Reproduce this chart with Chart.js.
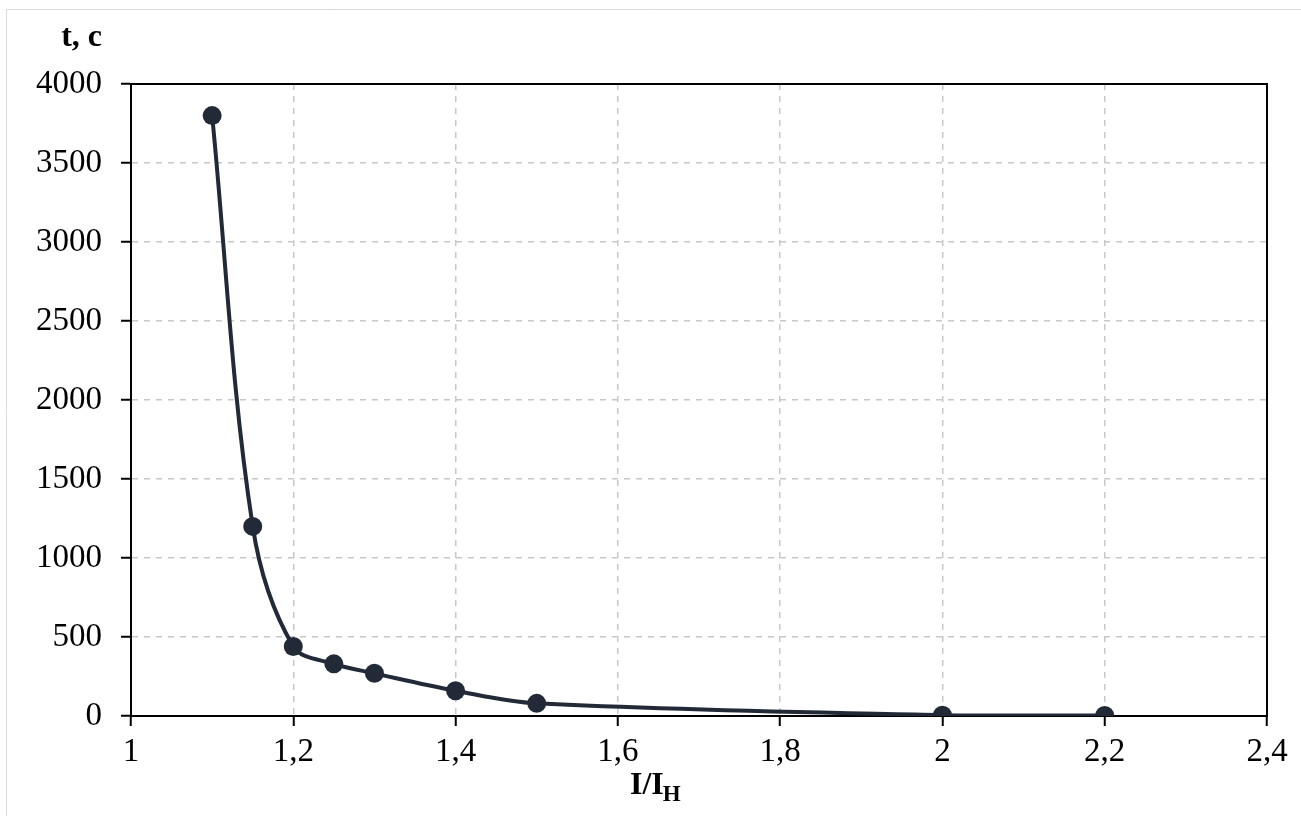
<!DOCTYPE html>
<html>
<head>
  <title>t(I/IH)</title>
  <script src="https://cdn.jsdelivr.net/npm/chart.js"></script>
  <style>
    body { margin: 0; background: #fff; }
    #wrap { width: 1301px; height: 816px; position: relative; }
  </style>
</head>
<body>
  <div id="wrap"><canvas id="myChart"></canvas></div>

  <script>
    // values
    const ratioValues = [1.1, 1.15, 1.2, 1.25, 1.3, 1.4, 1.5, 2, 2.2];
    const timeValues = [3800, 1200, 440, 330, 270, 160, 80, 5, 3];
    const xTicks = [1, 1.2, 1.4, 1.6, 1.8, 2, 2.2, 2.4];
    const yTicks = [0, 500, 1000, 1500, 2000, 2500, 3000, 3500, 4000];
    const yTitle = 't, c';
    const xTitle = 'I/I';
    const xTitleSub = 'H';

    const lineColor = '#222a38';
    const serif = "'Liberation Serif', 'Times New Roman', serif";

    // frame round the plot area and the axis titles
    const framePlugin = {
      id: 'frame',
      beforeDatasetsDraw(chart) {
        const ctx = chart.ctx;
        const a = chart.chartArea;
        ctx.save();
        ctx.strokeStyle = '#000';
        ctx.lineWidth = 2;
        ctx.strokeRect(a.left, a.top, a.right - a.left, a.bottom - a.top);
        ctx.restore();
      },
      afterDraw(chart) {
        const ctx = chart.ctx;
        ctx.save();
        // faint outer border of the picture
        ctx.strokeStyle = '#dcdcdc';
        ctx.lineWidth = 1;
        ctx.beginPath();
        ctx.moveTo(6.5, 816);
        ctx.lineTo(6.5, 9.5);
        ctx.lineTo(1301, 9.5);
        ctx.stroke();

        ctx.fillStyle = '#000';
        ctx.font = 'bold 32px ' + serif;
        ctx.textBaseline = 'alphabetic';
        ctx.textAlign = 'right';
        ctx.fillText(yTitle, 102, 46);

        ctx.textAlign = 'left';
        const w1 = ctx.measureText(xTitle).width;
        const x0 = 630;
        ctx.fillText(xTitle, x0, 794);
        ctx.font = 'bold 23px ' + serif;
        ctx.fillText(xTitleSub, x0 + w1 - 1, 801);
        ctx.restore();
      }
    };

    const fmt = v => String(parseFloat(Number(v).toFixed(2))).replace('.', ',');

    const ctx = document.getElementById('myChart').getContext('2d');
    const myChart = new Chart(ctx, {
      type: 'line',
      data: {
        datasets: [{
          label: 't',
          data: ratioValues.map((x, i) => ({ x: x, y: timeValues[i] })),
          borderColor: lineColor,
          backgroundColor: lineColor,
          borderWidth: 4,
          pointRadius: 9.5,
          pointHoverRadius: 9.5,
          pointBorderWidth: 0,
          tension: 0.35,
          fill: false
        }]
      },
      options: {
        responsive: true,
        maintainAspectRatio: false,
        animation: false,
        layout: { padding: { top: 84, right: 34, left: 0, bottom: 0 } },
        plugins: {
          legend: { display: false },
          tooltip: { enabled: false }
        },
        scales: {
          x: {
            type: 'linear',
            min: 1,
            max: 2.4,
            afterBuildTicks: s => { s.ticks = xTicks.map(v => ({ value: v })); },
            afterFit: s => { s.height = 100; },
            ticks: {
              color: '#000',
              font: { family: serif, size: 33 },
              padding: 7,
              maxRotation: 0,
              callback: v => fmt(v)
            },
            grid: {
              color: '#c8c8c8',
              lineWidth: 1.5,
              tickLength: 10,
              tickColor: '#000',
              tickWidth: 2
            },
            border: { display: true, color: '#000', width: 2, dash: [6, 6] }
          },
          y: {
            min: 0,
            max: 4000,
            afterBuildTicks: s => { s.ticks = yTicks.map(v => ({ value: v })); },
            afterFit: s => { s.width = 131; },
            ticks: {
              color: '#000',
              font: { family: serif, size: 33 },
              padding: 19,
              callback: v => String(v)
            },
            grid: {
              color: '#c8c8c8',
              lineWidth: 1.5,
              tickLength: 10,
              tickColor: '#000',
              tickWidth: 2
            },
            border: { display: true, color: '#000', width: 2, dash: [6, 6] }
          }
        }
      },
      plugins: [framePlugin]
    });
  </script>
</body>
</html>
